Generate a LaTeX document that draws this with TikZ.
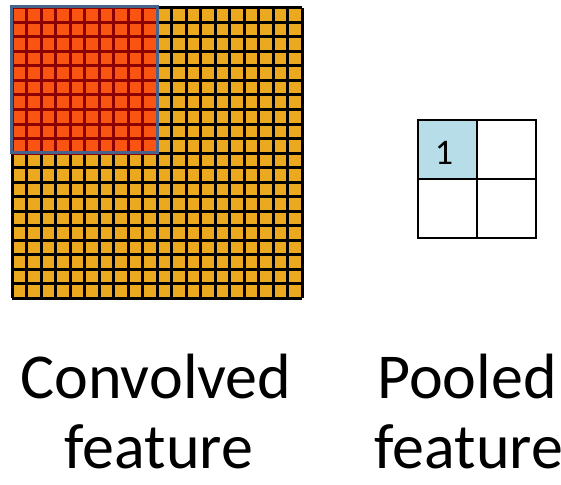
\documentclass[tikz,border=0pt]{standalone}
\usepackage{fontspec}
\setmainfont{Carlito}
\definecolor{convgold}{HTML}{EBA91F}
\definecolor{convred}{HTML}{FA5412}
\definecolor{convdark}{HTML}{8B0000}
\definecolor{frameblue}{HTML}{46648C}
\definecolor{poolblue}{HTML}{B7DDE8}
\tikzset{
  goldline/.style={line width=3pt,black},
  redline/.style={line width=3pt,convdark},
  poolline/.style={line width=1.6pt,black},
  biglabel/.style={anchor=base,inner sep=0pt,text height=46pt,text depth=0pt,
    font=\fontsize{64}{70}\selectfont}
}
\begin{document}
\begin{tikzpicture}[x=1pt,y=-1pt]
  \useasboundingbox (0,0) rectangle (561,484);
  % convolved feature, 20 x 20 cells
  \fill[convgold] (12,8) rectangle (302,298);
  \foreach \i in {0,...,20} {
    \draw[goldline] (12+14.5*\i,8) -- (12+14.5*\i,298);
    \draw[goldline] (12,8+14.5*\i) -- (302,8+14.5*\i);
  }
  % pooled region, 10 x 10 cells
  \fill[convred] (12,8) rectangle (157,153);
  \foreach \i in {0,...,10} {
    \draw[redline] (12+14.5*\i,8) -- (12+14.5*\i,153);
    \draw[redline] (12,8+14.5*\i) -- (157,8+14.5*\i);
  }
  \draw[line width=3pt,frameblue] (11,7) rectangle (157,152);
  % pooled feature
  \fill[poolblue] (418,120) rectangle (477,179);
  \draw[poolline] (418,120) rectangle (536,238);
  \draw[poolline] (477,120) -- (477,238);
  \draw[poolline] (418,179) -- (536,179);
  \node[font=\fontsize{36}{36}\selectfont] (one) at (444,153) {1};
  % labels
  \node[biglabel] (convtop) at (156,398) {Convolved};
  \node[biglabel] (convbot) at (159,468) {feature};
  \node[biglabel] (pooltop) at (467,398) {Pooled};
  \node[biglabel] (poolbot) at (469,468) {feature};
\end{tikzpicture}
\end{document}
